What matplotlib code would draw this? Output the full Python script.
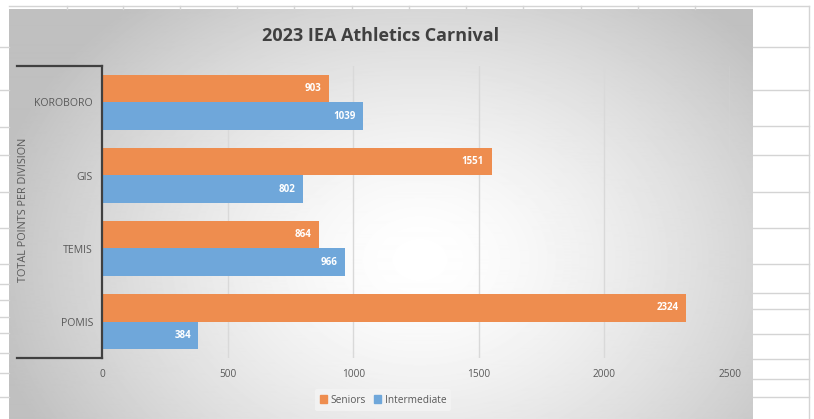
import matplotlib
matplotlib.use("Agg")
import matplotlib.pyplot as plt
from matplotlib import font_manager
from matplotlib.lines import Line2D
from matplotlib.patches import Patch
import numpy as np

divisions = ["KOROBORO", "GIS", "TEMIS", "POMIS"]
seniors = [903, 1551, 864, 2324]
intermediate = [1039, 802, 966, 384]
x_ticks = [0, 500, 1000, 1500, 2000, 2500]

W, H = 814, 419
ORANGE = "#ee8d4f"
BLUE = "#6fa7da"
TEXT = "#595959"


def _pick_font(names):
    for name in names:
        try:
            font_manager.findfont(name, fallback_to_default=False)
            return name
        except ValueError:
            continue
    return "DejaVu Sans"


FONT = _pick_font(["Liberation Sans Narrow", "Open Sans", "Liberation Sans"])
plt.rcParams["font.family"] = [FONT, "DejaVu Sans"]


def fx(px):
    return px / W


def fy(py):
    return 1 - py / H


fig = plt.figure(figsize=(W / 100, H / 100), dpi=100)
fig.patch.set_facecolor("white")

# spreadsheet cells around the chart
grid_c = "#d4d4d4"
fig.add_artist(Line2D([fx(9), fx(809)], [fy(6), fy(6)], color=grid_c, lw=1))
for xp in [67, 123, 180, 237, 294, 352, 409, 466, 523, 581, 638, 695]:
    fig.add_artist(Line2D([fx(xp), fx(xp)], [fy(6), fy(9)], color=grid_c, lw=1))
fig.add_artist(Line2D([fx(809), fx(809)], [fy(6), 0], color=grid_c, lw=1))
for yp in [47, 90, 126, 155, 192, 228, 264, 293, 309, 334, 359, 379, 397]:
    fig.add_artist(Line2D([fx(753), fx(809)], [fy(yp), fy(yp)], color=grid_c, lw=1))
for yp in [47, 90, 127, 155, 192, 228, 264, 284, 300, 317, 333, 353, 373, 397]:
    fig.add_artist(Line2D([0, fx(9)], [fy(yp), fy(yp)], color=grid_c, lw=1))

# chart area with radial gradient fill
bg = fig.add_axes([fx(9), 0, fx(753) - fx(9), fy(9)])
gx, gy = np.meshgrid(np.arange(9, 753), np.arange(9, 419))
d = np.sqrt(((gx - 420) / 440.0) ** 2 + ((gy - 260) / 340.0) ** 2)
t = np.clip(d, 0, 1) ** 1.5
shade = 1.0 - 0.25 * t
bg.imshow(shade, cmap="gray", vmin=0, vmax=1, aspect="auto", interpolation="bilinear")
bg.axis("off")

ax = fig.add_axes([fx(102), fy(358), fx(730) - fx(102), fy(66) - fy(358)])
ax.patch.set_alpha(0)
y = np.arange(len(divisions))
h = 0.37
ax.barh(y - h / 2, seniors, height=h, color=ORANGE, zorder=2)
ax.barh(y + h / 2, intermediate, height=h, color=BLUE, zorder=2)

for yi, v in zip(y, seniors):
    ax.annotate(str(v), (v, yi - h / 2), xytext=(-5.5, 0), textcoords="offset points",
                ha="right", va="center", color="white", fontsize=7, fontweight="bold", zorder=3)
for yi, v in zip(y, intermediate):
    ax.annotate(str(v), (v, yi + h / 2), xytext=(-5.5, 0), textcoords="offset points",
                ha="right", va="center", color="white", fontsize=7, fontweight="bold", zorder=3)

ax.set_xlim(0, 2500)
ax.set_ylim(len(divisions) - 0.5, -0.5)
ax.set_xticks(x_ticks)
ax.set_xticklabels([str(v) for v in x_ticks])
ax.set_yticks(y)
ax.set_yticklabels(divisions)
ax.tick_params(length=0, colors=TEXT, labelsize=7.3)
ax.tick_params(axis="y", pad=6.5, labelsize=7.6)
ax.tick_params(axis="x", pad=8)
ax.set_axisbelow(True)
ax.xaxis.grid(True, color="#d9d9d9", lw=1)
for s in ax.spines.values():
    s.set_visible(False)

# axis bracket on the left
line_c = "#404040"
fig.add_artist(Line2D([fx(102), fx(102)], [fy(66), fy(358)], color=line_c, lw=1.6, zorder=5))
fig.add_artist(Line2D([fx(17), fx(102)], [fy(66), fy(66)], color=line_c, lw=1.6, zorder=5))
fig.add_artist(Line2D([fx(17), fx(102)], [fy(358), fy(358)], color=line_c, lw=1.6, zorder=5))

fig.text(fx(381), fy(36), "2023 IEA Athletics Carnival", ha="center", va="center",
         fontsize=13, fontweight="bold", color="#404040")
fig.text(fx(24), fy(210), "TOTAL POINTS PER DIVISION", rotation=90, ha="center", va="center",
         fontsize=7.8, color=TEXT)

handles = [Patch(color=ORANGE, label="Seniors"), Patch(color=BLUE, label="Intermediate")]
leg = fig.legend(handles=handles, loc="center", bbox_to_anchor=(fx(383), fy(400)), ncol=2,
                 fontsize=7.3, frameon=True, handlelength=0.7, handleheight=0.7,
                 handletextpad=0.35, columnspacing=0.8, borderpad=0.5)
leg.get_frame().set_facecolor("#f4f4f4")
leg.get_frame().set_edgecolor("none")
for txt in leg.get_texts():
    txt.set_color(TEXT)

fig.savefig("out.png", dpi=100)
